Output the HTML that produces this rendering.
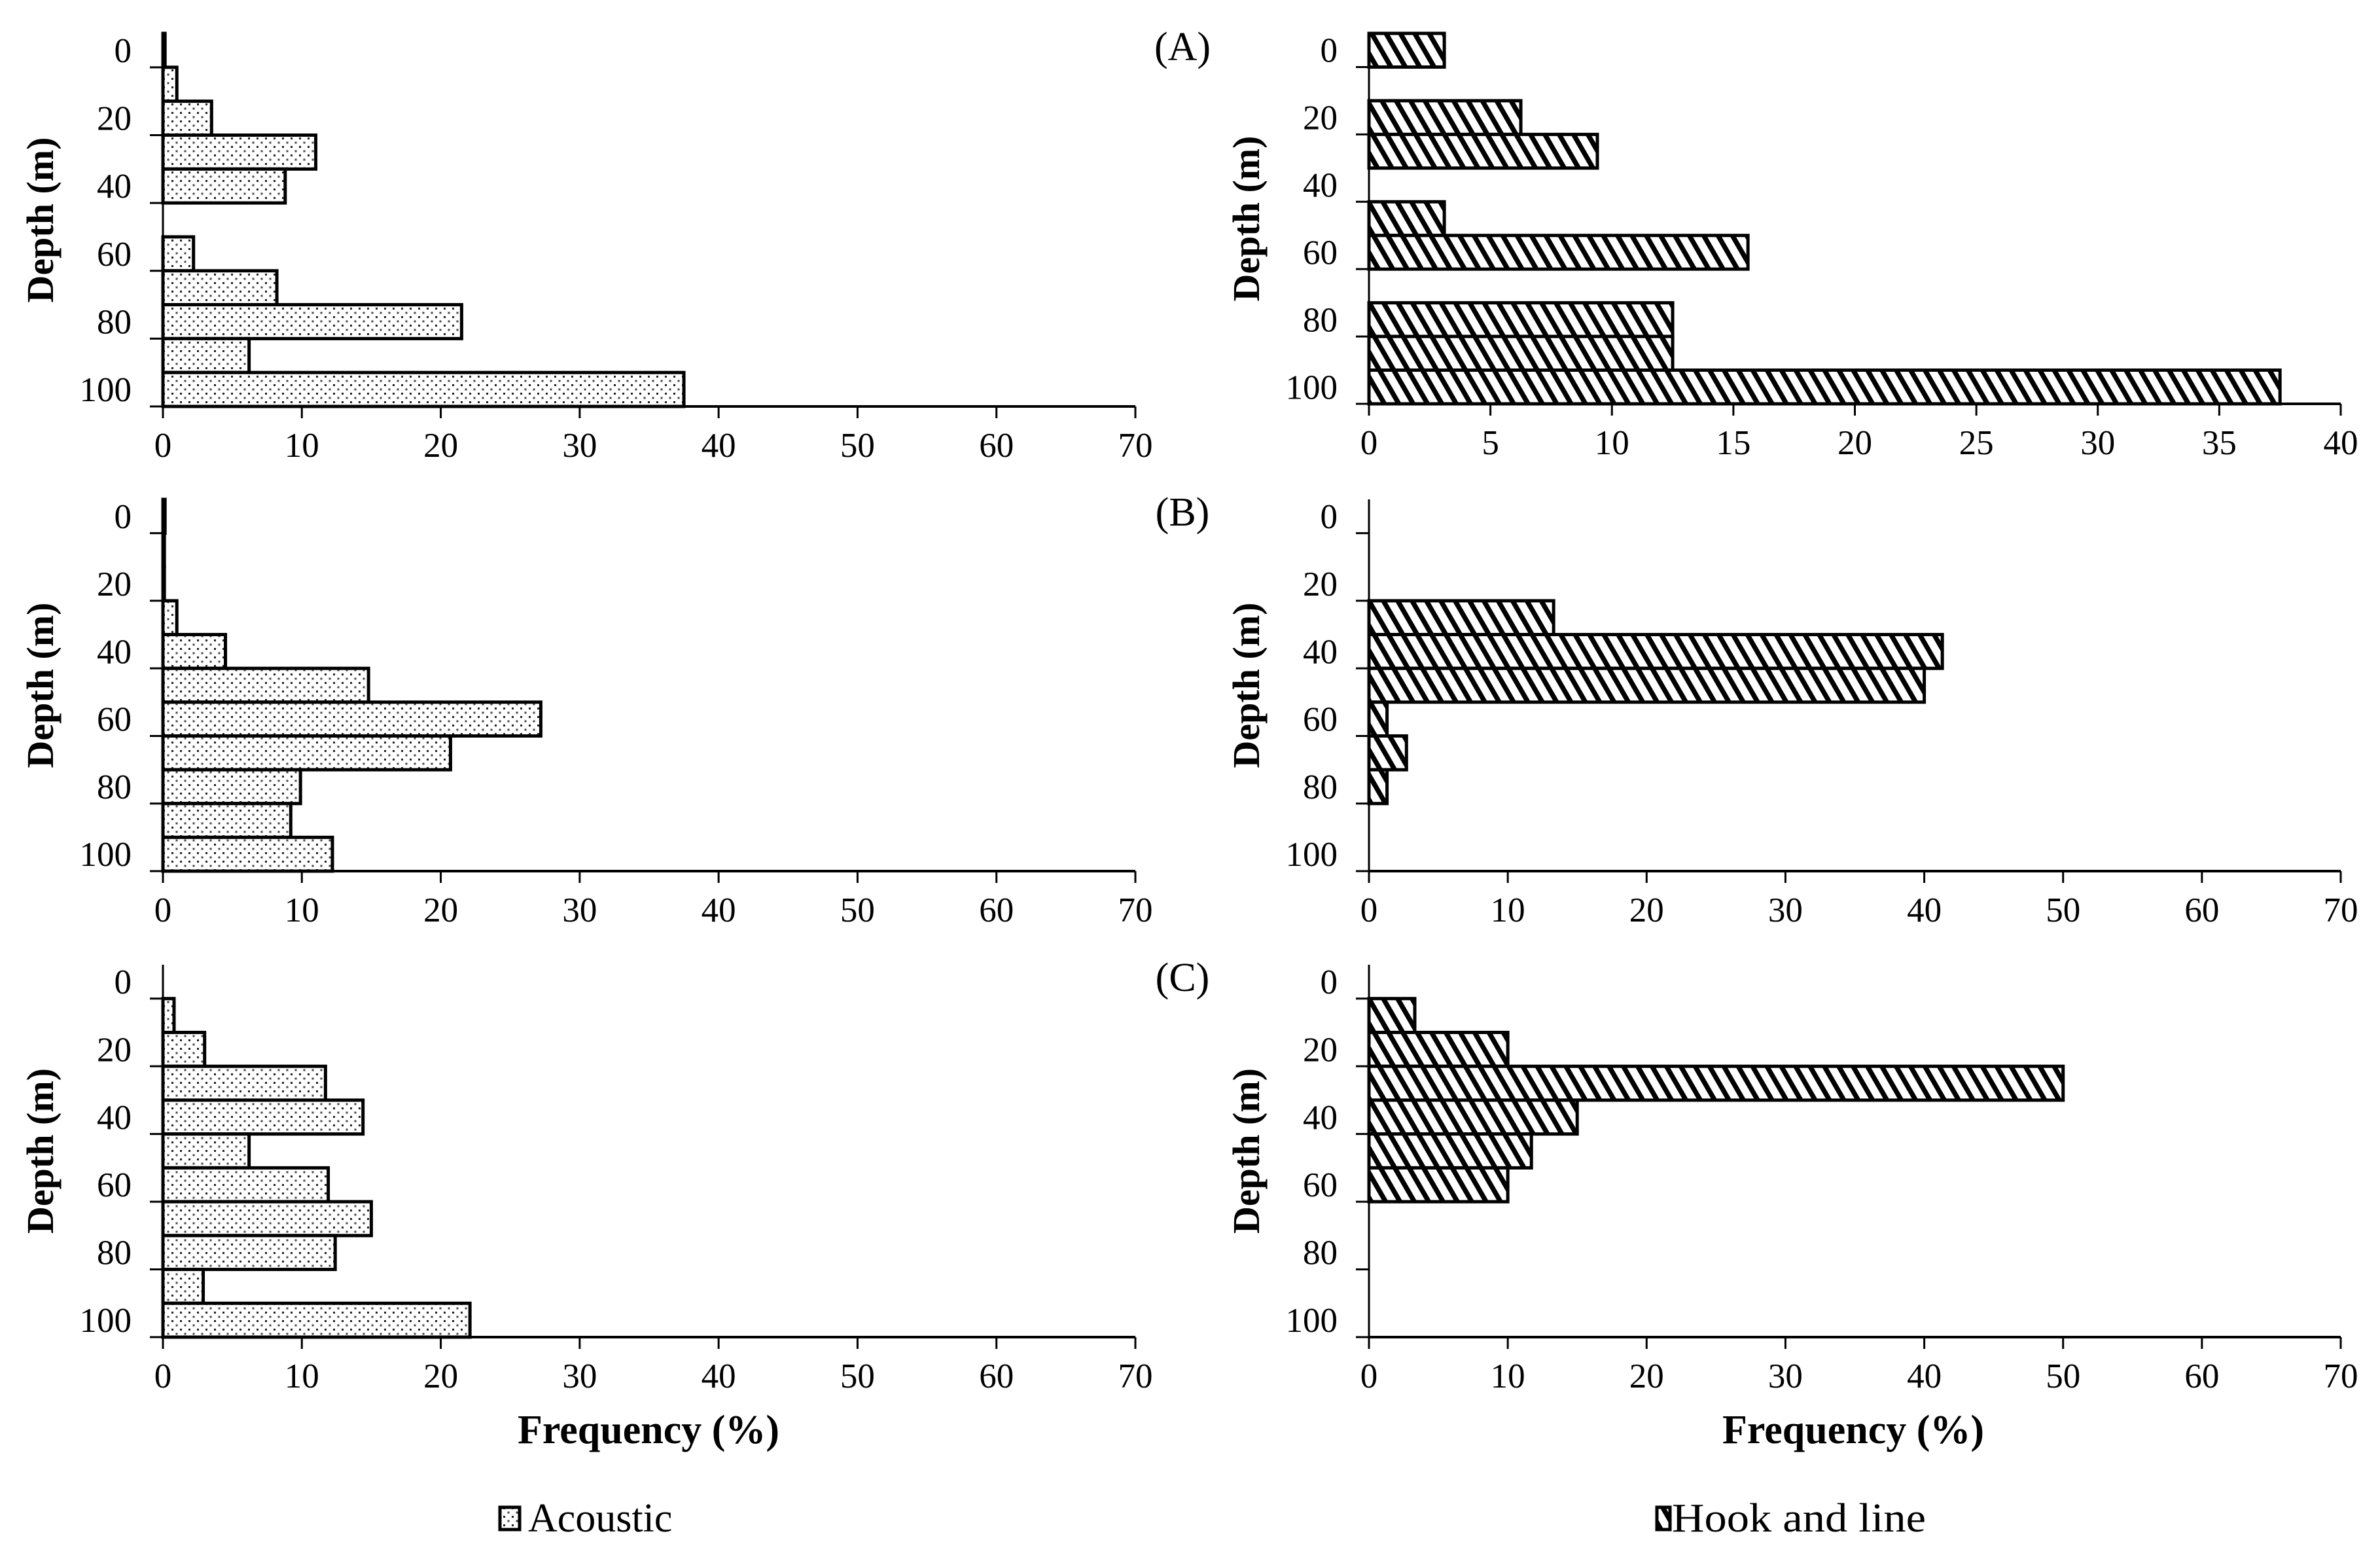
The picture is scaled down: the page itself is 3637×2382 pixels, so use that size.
<!DOCTYPE html>
<html><head><meta charset="utf-8"><style>
html,body{margin:0;padding:0;background:#fff;}
svg{display:block;font-family:"Liberation Serif",serif;}
</style></head><body>
<svg id="fig" width="3637" height="2382" viewBox="0 0 3637 2382" xmlns="http://www.w3.org/2000/svg">
<defs>
<pattern id="dots" patternUnits="userSpaceOnUse" width="13" height="13">
<rect width="13" height="13" fill="#fff"/>
<rect x="2" y="2" width="3" height="3" fill="#222"/>
<rect x="8.5" y="8.5" width="3" height="3" fill="#444"/>
</pattern>
<pattern id="hatch" patternUnits="userSpaceOnUse" width="19" height="40" patternTransform="rotate(-30)">
<rect width="19" height="40" fill="#fff"/>
<rect x="0" y="0" width="7.5" height="40" fill="#000"/>
</pattern>
</defs>
<g id="plots"></g>
<text x="1807" y="92" font-size="62" text-anchor="middle">(A)</text>
<text x="1807" y="803" font-size="62" text-anchor="middle">(B)</text>
<text x="1807" y="1514" font-size="62" text-anchor="middle">(C)</text>
<text x="991" y="2205" font-size="62" font-weight="bold" text-anchor="middle">Frequency (%)</text>
<text x="2832" y="2205" font-size="62" font-weight="bold" text-anchor="middle">Frequency (%)</text>
<g>
<rect x="764" y="2303" width="30" height="34" fill="url(#dots)" stroke="#000" stroke-width="5"/>
<text x="807" y="2340" font-size="62">Acoustic</text>
</g>
<g>
<rect x="2532" y="2303" width="20" height="34" fill="url(#hatch)" stroke="#000" stroke-width="5"/>
<text x="2555" y="2340" font-size="62" textLength="388" lengthAdjust="spacingAndGlyphs">Hook and line</text>
</g>
</svg>
<script>
const depthLabels = ["0","20","40","60","80","100"];
const acousticA = [0.15,1,3.5,11,8.8,0,2.2,8.2,21.5,6.2,37.5];
const hookA = [3.1,0,6.25,9.4,0,3.1,15.6,0,12.5,12.5,37.5];
const acousticB = [0.15,0.1,0.1,1,4.5,14.8,27.2,20.7,9.9,9.2,12.2];
const hookB = [0,0,0,13.3,41.3,40,1.3,2.7,1.3,0,0];
const acousticC = [0,0.8,3,11.7,14.4,6.2,11.9,15,12.4,2.9,22.1];
const hookC = [0,3.3,10,50,15,11.7,10,0,0,0,0];
const ticks70 = [0,10,20,30,40,50,60,70];
const ticks40 = [0,5,10,15,20,25,30,35,40];

const NS = "http://www.w3.org/2000/svg";
const root = document.getElementById('plots');
function mk(tag, attrs, parent){const e=document.createElementNS(NS,tag);for(const k in attrs)e.setAttribute(k,attrs[k]);(parent||root).appendChild(e);return e;}

function panel(name, x0, x1, top, bottom, xmax, xticks, values, fill){
  const g = mk('g',{});
  
  
  const n = values.length;
  const bh = (bottom-top)/n;
  const xs = v => x0 + (x1-x0)*v/xmax;
  const ys = i => top + i*bh;
  values.forEach((v,i)=>{
    if(v<=0) return;
    const r = mk('rect',{x:x0,y:ys(i),width:xs(v)-x0,height:bh,fill:fill,stroke:'#000','stroke-width':5},g);
    
    
  });
  const ya = mk('line',{x1:x0,y1:top,x2:x0,y2:bottom,stroke:'#000','stroke-width':3},g);
  
  
  const xa = mk('line',{x1:x0,y1:bottom,x2:x1,y2:bottom,stroke:'#000','stroke-width':4},g);
  
  
  for(let i=1;i<=n;i+=2){
    mk('line',{x1:x0-20,y1:ys(i),x2:x0,y2:ys(i),stroke:'#000','stroke-width':3},g);
  }
  depthLabels.forEach((l,j)=>{
    const t = mk('text',{x:x0-48,y:ys(j*2)+bh/2+18,'font-size':53,'text-anchor':'end'},g);
    t.textContent = l;
    
    
  });
  xticks.forEach(v=>{
    mk('line',{x1:xs(v),y1:bottom,x2:xs(v),y2:bottom+18,stroke:'#000','stroke-width':3},g);
    const t = mk('text',{x:xs(v),y:bottom+77,'font-size':53,'text-anchor':'middle'},g);
    t.textContent = v;
    
    
  });
  const yt = mk('text',{x:0,y:0,'font-size':58,'font-weight':'bold','text-anchor':'middle',transform:'translate('+(x0-168)+','+((top+bottom)/2)+') rotate(-90)'},g);
  yt.textContent = 'Depth (m)';
  
  
}
const L0=249, L1=1735, R0=2092, R1=3577;
panel('acoustic-panel-a', L0, L1, 51, 621, 70, ticks70, acousticA, 'url(#dots)');
panel('hook-panel-a', R0, R1, 51, 617, 40, ticks40, hookA, 'url(#hatch)');
panel('acoustic-panel-b', L0, L1, 763, 1331, 70, ticks70, acousticB, 'url(#dots)');
panel('hook-panel-b', R0, R1, 763, 1331, 70, ticks70, hookB, 'url(#hatch)');
panel('acoustic-panel-c', L0, L1, 1474, 2043, 70, ticks70, acousticC, 'url(#dots)');
panel('hook-panel-c', R0, R1, 1474, 2043, 70, ticks70, hookC, 'url(#hatch)');
</script>
</body></html>
